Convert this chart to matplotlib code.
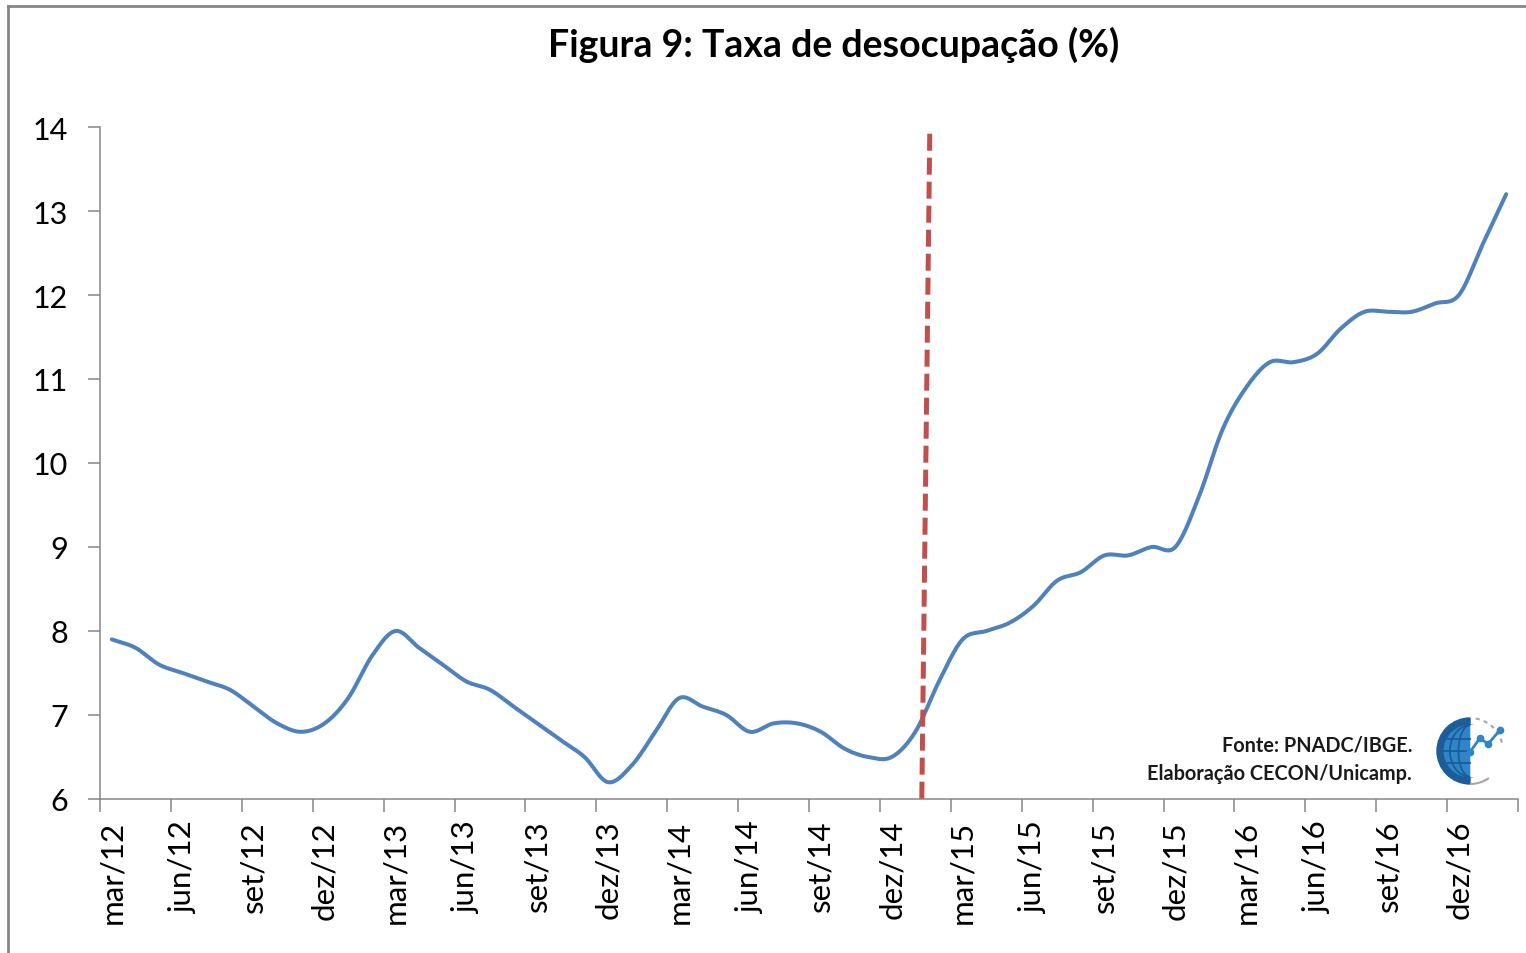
import numpy as np
import matplotlib.pyplot as plt
from matplotlib.patches import Wedge, Ellipse, Arc
from matplotlib.lines import Line2D

# monthly unemployment rate, mar/2012 .. fev/2017
taxa = [7.9, 7.8, 7.6, 7.5, 7.4, 7.3, 7.1, 6.9, 6.8, 6.9,
        7.2, 7.7, 8.0, 7.8, 7.6, 7.4, 7.3, 7.1, 6.9, 6.7,
        6.5, 6.2, 6.4, 6.8, 7.2, 7.1, 7.0, 6.8, 6.9, 6.9,
        6.8, 6.6, 6.5, 6.5, 6.8, 7.4, 7.9, 8.0, 8.1, 8.3,
        8.6, 8.7, 8.9, 8.9, 9.0, 9.0, 9.6, 10.4, 10.9, 11.2,
        11.2, 11.3, 11.6, 11.8, 11.8, 11.8, 11.9, 12.0, 12.6, 13.2]
tick_labels = ["mar/12", "jun/12", "set/12", "dez/12", "mar/13", "jun/13",
               "set/13", "dez/13", "mar/14", "jun/14", "set/14", "dez/14",
               "mar/15", "jun/15", "set/15", "dez/15", "mar/16", "jun/16",
               "set/16", "dez/16"]
marco_x = [34.61, 34.27]   # dashed marker line (top, bottom)
marco_y = [13.92, 5.94]

FONT = "Lato"
GRAY = "#868686"


def catmull_rom(x, y, n=24):
    # smooth curve through the points, like the spreadsheet "smoothed line"
    x = np.asarray(x, float)
    y = np.asarray(y, float)
    px = np.concatenate([[2 * x[0] - x[1]], x, [2 * x[-1] - x[-2]]])
    py = np.concatenate([[2 * y[0] - y[1]], y, [2 * y[-1] - y[-2]]])
    xs, ys = [], []
    t = np.linspace(0, 1, n, endpoint=False)
    for i in range(1, len(px) - 2):
        for p, out in ((px, xs), (py, ys)):
            p0, p1, p2, p3 = p[i - 1], p[i], p[i + 1], p[i + 2]
            out.extend(0.5 * (2 * p1 + (-p0 + p2) * t
                              + (2 * p0 - 5 * p1 + 4 * p2 - p3) * t ** 2
                              + (-p0 + 3 * p1 - 3 * p2 + p3) * t ** 3))
    xs.append(x[-1])
    ys.append(y[-1])
    return np.array(xs), np.array(ys)


fig = plt.figure(figsize=(15.26, 9.54), dpi=100)
ax = fig.add_axes([100 / 1526, 1 - 800 / 954, 1418 / 1526, 672 / 954])

meses = np.arange(len(taxa))
sx, sy = catmull_rom(meses, taxa)
ax.plot(sx, sy, color="#4F81BD", lw=2.9, solid_capstyle="round", zorder=3)
ax.plot(marco_x, marco_y, color="#C0504D", lw=3.6, dashes=(3.4, 1.4), zorder=4)

ax.set_xlim(-0.5, len(taxa) - 0.5)
ax.set_ylim(6, 14)
ax.set_yticks(range(6, 15))
ax.set_xticks(np.arange(-0.5, len(taxa), 3))
ax.set_xticklabels([])
ax.set_xticks(np.arange(0, len(taxa), 3), minor=True)
ax.set_xticklabels(tick_labels, minor=True, rotation=90, fontsize=22.5,
                   family=FONT)
for lab in ax.get_yticklabels():
    lab.set_fontsize(22)
    lab.set_family(FONT)

ax.tick_params(axis="y", length=9, width=1.1, color=GRAY, pad=14)
ax.tick_params(axis="x", which="major", length=9, width=1.1, color=GRAY)
ax.tick_params(axis="x", which="minor", length=0, pad=15)
for side in ("top", "right"):
    ax.spines[side].set_visible(False)
for side in ("left", "bottom"):
    ax.spines[side].set_color(GRAY)
    ax.spines[side].set_linewidth(1.1)

fig.text(0.546, 0.953, "Figura 9: Taxa de desocupação (%)", ha="center",
         va="center", fontsize=27, fontweight="bold", family=FONT)
fig.text(1412 / 1526, 1 - 746 / 954, "Fonte: PNADC/IBGE.", ha="right",
         va="center", fontsize=14.3, fontweight="bold", family=FONT,
         color="#1a1a1a")
fig.text(1412 / 1526, 1 - 774 / 954, "Elaboração CECON/Unicamp.", ha="right",
         va="center", fontsize=14.3, fontweight="bold", family=FONT,
         color="#1a1a1a")

# decoration layer in pixel coordinates: frame and logo
deco = fig.add_axes([0, 0, 1, 1], facecolor="none")
deco.set_xlim(0, 1526)
deco.set_ylim(954, 0)
deco.axis("off")
deco.add_line(Line2D([8, 8], [7, 954], color=GRAY, lw=2))
deco.add_line(Line2D([8, 1526], [7, 7], color=GRAY, lw=2))

cx, cy, r = 1470, 752, 33
deco.add_patch(Wedge((cx, cy), r, 90, 270, color="#1B5C99"))
deco.add_patch(Wedge((cx, cy), r * 0.78, 90, 270, color="#2E86C9"))
for k in (0.45, 0.78):
    deco.add_patch(Ellipse((cx, cy), 2 * r * 0.78 * k, 2 * r * 0.78,
                           fill=False, ec="#1B5C99", lw=1.3))
deco.add_patch(Wedge((cx + 1, cy), r * 0.78, 270, 90, color="white"))
for dy in (-0.45, 0, 0.45):
    half = r * 0.78 * np.sqrt(1 - dy ** 2)
    deco.add_line(Line2D([cx - half, cx], [cy + dy * r * 0.78] * 2,
                         color="#1B5C99", lw=1.3))
deco.add_patch(Arc((cx, cy), 2 * r, 2 * r, theta1=-80, theta2=-10,
                   color="#A6A6A6", lw=1.5, ls=(0, (2, 2))))
deco.add_patch(Arc((cx, cy), 2 * r, 2 * r, theta1=55, theta2=90,
                   color="#A6A6A6", lw=1.5))
deco.plot([1470, 1480, 1488, 1500], [753, 739, 745, 731], color="#2E86C9",
          lw=2, marker="o", ms=4.5)

fig.savefig("out.png", dpi=100, facecolor="white")
